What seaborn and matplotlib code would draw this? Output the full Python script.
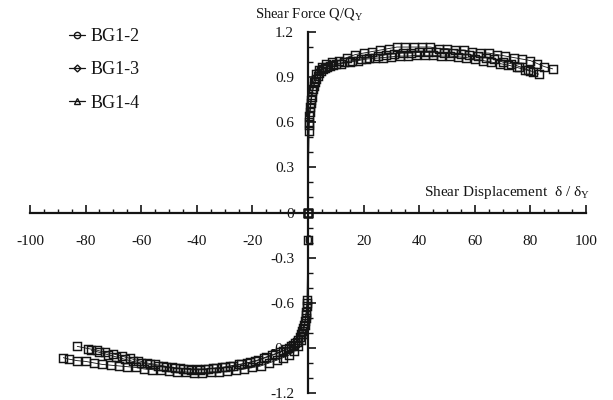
import numpy as np
import pandas as pd
import matplotlib
matplotlib.use("Agg")
import matplotlib.pyplot as plt
import seaborn as sns
from matplotlib.lines import Line2D
from matplotlib.ticker import MultipleLocator, FuncFormatter

# ---------------- data ----------------
series_names = ["BG1-2", "BG1-3", "BG1-4"]

bg12_pos_x = [0, 0.2, 0.5, 0.9, 1.4, 2.0, 2.8, 3.8, 5, 6.5, 8.5, 11, 14, 17, 20, 23, 26, 29, 32, 35,
              38, 41, 44, 47, 50, 53, 56, 59, 62, 65, 68, 71, 74, 77, 80, 82.5, 85, 88]
bg12_pos_y = [0, 0.54, 0.64, 0.73, 0.81, 0.87, 0.92, 0.95, 0.97, 0.99, 1.0, 1.01, 1.03, 1.05, 1.06, 1.07,
              1.08, 1.09, 1.10, 1.10, 1.10, 1.10, 1.10, 1.09, 1.09, 1.08, 1.08, 1.07, 1.06, 1.06, 1.05,
              1.04, 1.03, 1.02, 1.01, 0.99, 0.97, 0.955]
bg12_neg_x = [0, -0.1, -0.3, -0.7, -1.2, -1.8, -2.5, -3.5, -5, -7, -9, -11, -14, -17, -20, -23, -26, -29,
              -32, -35, -38, -41, -44, -47, -50, -53, -56, -59, -62, -65, -68, -71, -74, -77, -80,
              -83, -86, -88]
bg12_neg_y = [0, -0.18, -0.6, -0.68, -0.75, -0.81, -0.85, -0.89, -0.92, -0.95, -0.965, -0.98, -1.0,
              -1.02, -1.03, -1.04, -1.05, -1.055, -1.06, -1.06, -1.065, -1.065, -1.06, -1.06, -1.055,
              -1.05, -1.045, -1.04, -1.03, -1.025, -1.02, -1.015, -1.01, -1.0, -0.99, -0.985, -0.975,
              -0.965]

bg13_pos_x = [0, 0.3, 0.7, 1.2, 1.8, 2.5, 3.5, 4.5, 6, 8, 10, 13, 16, 19, 22, 25, 28, 31, 34, 37, 40,
              43, 46, 49, 52, 55, 58, 61, 64, 67, 70, 73, 76, 79, 81, 83]
bg13_pos_y = [0, 0.58, 0.67, 0.75, 0.82, 0.87, 0.91, 0.94, 0.96, 0.975, 0.985, 1.0, 1.01, 1.02, 1.03,
              1.04, 1.05, 1.055, 1.06, 1.06, 1.065, 1.065, 1.065, 1.06, 1.06, 1.055, 1.05, 1.04, 1.03,
              1.02, 1.0, 0.99, 0.97, 0.95, 0.935, 0.92]
bg13_neg_x = [0, -0.2, -0.6, -1.1, -1.7, -2.5, -3.5, -4.5, -6, -8, -10, -13, -16, -19, -22, -25, -28,
              -31, -34, -37, -40, -43, -46, -49, -52, -55, -58, -61, -64, -67, -70, -73, -76, -79, -83]
bg13_neg_y = [0, -0.58, -0.66, -0.72, -0.77, -0.81, -0.85, -0.87, -0.89, -0.91, -0.93, -0.95, -0.97,
              -0.99, -1.0, -1.01, -1.02, -1.03, -1.035, -1.04, -1.04, -1.04, -1.035, -1.03, -1.02,
              -1.01, -1.0, -0.985, -0.97, -0.955, -0.94, -0.93, -0.915, -0.905, -0.89]

bg14_pos_x = [0, 0.4, 0.8, 1.3, 2, 3, 4, 5.5, 7, 9, 12, 15, 18, 21, 24, 27, 30, 33, 36, 39, 42, 45,
              48, 51, 54, 57, 60, 63, 66, 69, 72, 75, 78, 80]
bg14_pos_y = [0, 0.6, 0.7, 0.77, 0.84, 0.89, 0.93, 0.955, 0.97, 0.98, 0.99, 1.0, 1.01, 1.02, 1.025,
              1.03, 1.035, 1.04, 1.04, 1.045, 1.045, 1.045, 1.04, 1.04, 1.035, 1.03, 1.02, 1.01, 1.0,
              0.99, 0.98, 0.965, 0.95, 0.94]
bg14_neg_x = [0, -0.3, -0.8, -1.4, -2.1, -3, -4, -5.5, -7, -9, -12, -15, -18, -21, -24, -27, -30,
              -33, -36, -39, -42, -45, -48, -51, -54, -57, -60, -63, -66, -69, -72, -75, -78]
bg14_neg_y = [0, -0.62, -0.7, -0.75, -0.79, -0.83, -0.86, -0.88, -0.9, -0.92, -0.94, -0.96, -0.98,
              -0.995, -1.01, -1.02, -1.03, -1.035, -1.04, -1.045, -1.045, -1.04, -1.035, -1.03, -1.02,
              -1.01, -1.0, -0.99, -0.975, -0.96, -0.945, -0.93, -0.915]

x_ticks = [-100, -80, -60, -40, -20, 0, 20, 40, 60, 80, 100]
y_ticks = [-1.2, -0.9, -0.6, -0.3, 0, 0.3, 0.6, 0.9, 1.2]

# ---------------- build table ----------------
branches = [
    ("BG1-2", "pos", bg12_pos_x, bg12_pos_y), ("BG1-2", "neg", bg12_neg_x, bg12_neg_y),
    ("BG1-3", "pos", bg13_pos_x, bg13_pos_y), ("BG1-3", "neg", bg13_neg_x, bg13_neg_y),
    ("BG1-4", "pos", bg14_pos_x, bg14_pos_y), ("BG1-4", "neg", bg14_neg_x, bg14_neg_y),
]
rows = []
for s, b, xs, ys in branches:
    for i, (xv, yv) in enumerate(zip(xs, ys)):
        rows.append({"series": s, "branch": s + b, "order": i, "x": xv, "y": yv})
df = pd.DataFrame(rows)

# ---------------- style ----------------
sns.set_theme(style="white")
plt.rcParams["font.family"] = ["Liberation Serif", "DejaVu Serif"]
plt.rcParams["axes.unicode_minus"] = False
plt.rcParams["mathtext.fontset"] = "custom"
plt.rcParams["mathtext.rm"] = "Liberation Serif"

ink = "#141414"
fig = plt.figure(figsize=(6.13, 4.0), dpi=100)
ax = fig.add_axes([30 / 613, 7 / 400, 556 / 613, 361 / 400])

for s in series_names:
    sub = df[df["series"] == s]
    sns.lineplot(data=sub, x="x", y="y", units="branch", estimator=None, sort=False,
                 color=ink, lw=0.6, marker="s", markersize=6.0, markerfacecolor="none",
                 markeredgecolor=ink, markeredgewidth=1.05, ax=ax, legend=False)

ax.set_xlim(-100, 100)
ax.set_ylim(-1.2, 1.2)
ax.set_xlabel("")
ax.set_ylabel("")

for sp in ["top", "right"]:
    ax.spines[sp].set_visible(False)
ax.spines["left"].set_position(("data", 0))
ax.spines["bottom"].set_position(("data", 0))
for sp in ["left", "bottom"]:
    ax.spines[sp].set_linewidth(1.6)
    ax.spines[sp].set_color(ink)

ax.set_xticks(x_ticks)
ax.set_yticks(y_ticks)
ax.xaxis.set_minor_locator(MultipleLocator(5))
ax.yaxis.set_minor_locator(MultipleLocator(0.1))
ax.xaxis.set_major_formatter(FuncFormatter(lambda v, p: f"{int(round(v))}"))
ax.yaxis.set_major_formatter(FuncFormatter(lambda v, p: "0" if abs(v) < 1e-9 else f"{v:.1f}"))

ax.tick_params(axis="x", which="major", direction="in", length=6, width=1.2, color=ink,
               labelsize=11, pad=16, labelcolor=ink, bottom=True)
ax.tick_params(axis="x", which="minor", direction="in", length=3, width=1.0, color=ink, bottom=True)
ax.tick_params(axis="y", which="major", direction="in", length=6, width=1.2, color=ink,
               labelsize=11, pad=10, labelcolor=ink, left=True)
ax.tick_params(axis="y", which="minor", direction="in", length=3.5, width=1.0, color=ink, left=True)

# legend (custom handles as in the reference)
handles = [
    Line2D([], [], color=ink, lw=0.9, marker="o", ms=4.5, mfc="none", mec=ink, mew=1.0),
    Line2D([], [], color=ink, lw=0.9, marker="D", ms=3.5, mfc="none", mec=ink, mew=1.0),
    Line2D([], [], color=ink, lw=0.9, marker="^", ms=4.0, mfc="none", mec=ink, mew=1.0),
]
fig.legend(handles, series_names, loc="upper left", bbox_to_anchor=(69 / 613, 1 - 28 / 400),
           frameon=False, handlelength=0.9, handletextpad=0.3, labelspacing=0.9,
           borderpad=0, borderaxespad=0, fontsize=13, labelcolor=ink)

fig.text(309 / 613, 1 - 15 / 400, r"Shear Force Q/Q$_\mathregular{Y}$", ha="center", va="center",
         fontsize=10.5, color=ink)
fig.text(590 / 613, 1 - 193 / 400, r"Shear Displacement  δ / δ$_\mathregular{Y}$", ha="right",
         va="center", fontsize=11, color=ink)

fig.savefig("out.png", dpi=100)
